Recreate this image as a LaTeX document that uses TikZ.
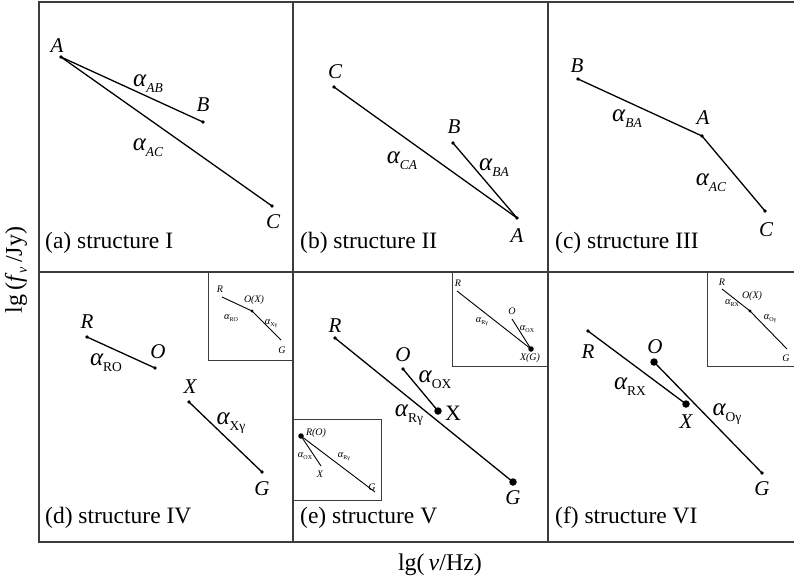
\documentclass[tikz,border=0pt]{standalone}
\usepackage{fontspec}
\setmainfont{Liberation Serif}
\definecolor{framegray}{HTML}{3C3C3C}
\newcommand{\ptfont}{\fontsize{21}{23}\selectfont\itshape}
\newcommand{\capfont}{\fontsize{23.5}{25}\selectfont}
\newcommand{\insfont}{\fontsize{10}{11}\selectfont\itshape}
\newcommand{\axfont}{\fontsize{24}{26}\selectfont}
\newcommand{\mainal}[1]{{\fontsize{25}{26}\selectfont\itshape α}\raisebox{-6pt}{\fontsize{13.5}{14}\selectfont #1}}
\newcommand{\insal}[1]{{\fontsize{10.5}{11}\selectfont\itshape α}\raisebox{-2.3pt}{\fontsize{6}{6}\selectfont #1}}

\tikzset{
  dot/.style={circle,fill=black,inner sep=0pt,minimum size=3.8pt},
  bigdot/.style={circle,fill=black,inner sep=0pt,minimum size=7.5pt},
  smalldot/.style={circle,fill=black,inner sep=0pt,minimum size=3.4pt},
  insbigdot/.style={circle,fill=black,inner sep=0pt,minimum size=5.5pt},
  seg/.style={line width=1.3pt,color=black},
  insseg/.style={line width=0.9pt,color=black},
  ptlab/.style={font=\ptfont,inner sep=0pt},
  uplab/.style={font=\fontsize{22}{24}\selectfont,inner sep=0pt},
  caplab/.style={font=\capfont,anchor=west,inner sep=0pt},
  alab/.style={inner sep=0pt},
  inslab/.style={font=\insfont,inner sep=0pt},
  panelline/.style={line width=1.3pt,color=framegray},
  insetbox/.style={draw=framegray,line width=1pt}
}

\begin{document}
\begin{tikzpicture}[x=1pt,y=-1pt]
\useasboundingbox (0,0) rectangle (794,579);

% panel frame
\draw[panelline] (794,2) -- (39,2) -- (39,542) -- (794,542);
\draw[panelline] (39,272) -- (794,272);
\draw[panelline] (293,2) -- (293,542);
\draw[panelline] (548,2) -- (548,542);

\node[font=\axfont] (xlab) at (440,565) {lg(\,\textit{ν}/Hz)};
\node[font=\axfont,rotate=90] (ylab) at (16,270) {lg\,(\textit{f}\raisebox{-5pt}{\fontsize{14}{14}\selectfont\textit{ν}}\,/Jy)};

% (a) structure I
\node[dot] (aA) at (61,57) {};
\node[dot] (aB) at (203,122) {};
\node[dot] (aC) at (272,206) {};
\draw[seg] (aA.center) -- (aB.center);
\draw[seg] (aA.center) -- (aC.center);
\node[ptlab] (aAl) at (57,46) {A};
\node[ptlab] (aBl) at (203,105) {B};
\node[ptlab] (aCl) at (273,222) {C};
\node[alab] (aab) at (148,84) {\mainal{\itshape AB}};
\node[alab] (aac) at (148,148) {\mainal{\itshape AC}};
\node[caplab] (acap) at (45,243) {(a) structure I};

% (b) structure II
\node[dot] (bC) at (334,87) {};
\node[dot] (bB) at (453,143) {};
\node[dot] (bA) at (517,218) {};
\draw[seg] (bC.center) -- (bA.center);
\draw[seg] (bB.center) -- (bA.center);
\node[ptlab] (bCl) at (335,72) {C};
\node[ptlab] (bBl) at (454,127) {B};
\node[ptlab] (bAl) at (517,236) {A};
\node[alab] (bca) at (402,161) {\mainal{\itshape CA}};
\node[alab] (bba) at (494,168) {\mainal{\itshape BA}};
\node[caplab] (bcap) at (300,243) {(b) structure II};

% (c) structure III
\node[dot] (cB) at (578,79) {};
\node[dot] (cA) at (702,136) {};
\node[dot] (cC) at (765,211) {};
\draw[seg] (cB.center) -- (cA.center) -- (cC.center);
\node[ptlab] (cBl) at (577,66) {B};
\node[ptlab] (cAl) at (703,118) {A};
\node[ptlab] (cCl) at (766,230) {C};
\node[alab] (cba) at (627,119) {\mainal{\itshape BA}};
\node[alab] (cac) at (711,183) {\mainal{\itshape AC}};
\node[caplab] (ccap) at (555,243) {(c) structure III};

% (d) structure IV
\node[dot] (dR) at (87,337) {};
\node[dot] (dO) at (155,368) {};
\node[dot] (dX) at (189,402) {};
\node[dot] (dG) at (262,472) {};
\draw[seg] (dR.center) -- (dO.center);
\draw[seg] (dX.center) -- (dG.center);
\node[ptlab] (dRl) at (87,322) {R};
\node[ptlab] (dOl) at (158,352) {O};
\node[ptlab] (dXl) at (190,387) {X};
\node[ptlab] (dGl) at (262,489) {G};
\node[alab] (dro) at (106,363) {\mainal{RO}};
\node[alab] (dxg) at (231,423) {\mainal{Xγ}};
\node[caplab] (dcap) at (45,518) {(d) structure IV};
% inset
\draw[insetbox] (208,272) rectangle (293,360);
\node[smalldot] (diO) at (252,311) {};
\coordinate (diR) at (222,297);
\coordinate (diG) at (281,340);
\draw[insseg] (diR) -- (diO.center) -- (diG);
\node[inslab] (diRl) at (220,289) {R};
\node[inslab] (diOl) at (254,300) {O(X)};
\node[inslab] (diGl) at (282,350) {G};
\node[alab] (diro) at (231,318) {\insal{RO}};
\node[alab] (dixg) at (271,324) {\insal{Xγ}};

% (e) structure V
\node[dot] (eR) at (335,338) {};
\node[dot] (eO) at (403,369) {};
\node[bigdot] (eX) at (438,411) {};
\node[bigdot] (eG) at (513,482) {};
\draw[seg] (eR.center) -- (eG.center);
\draw[seg] (eO.center) -- (eX.center);
\node[ptlab] (eRl) at (335,326) {R};
\node[ptlab] (eOl) at (403,355) {O};
\node[uplab] (eXl) at (453,413) {X};
\node[ptlab] (eGl) at (513,498) {G};
\node[alab] (eox) at (435,380) {\mainal{OX}};
\node[alab] (erg) at (409,415) {\mainal{Rγ}};
\node[caplab] (ecap) at (300,518) {(e) structure V};
% inset top right
\draw[insetbox] (452,272) rectangle (548,366);
\node[insbigdot] (etX) at (531,349) {};
\coordinate (etR) at (457,291);
\coordinate (etO) at (512,319);
\draw[insseg] (etR) -- (etX.center);
\draw[insseg] (etO) -- (etX.center);
\node[inslab] (etRl) at (458,283) {R};
\node[inslab] (etOl) at (512,311) {O};
\node[inslab] (etXl) at (530,358) {X(G)};
\node[alab] (etrg) at (482,322) {\insal{Rγ}};
\node[alab] (etox) at (527,329) {\insal{OX}};
% inset bottom left
\draw[insetbox] (293,419) rectangle (381,500);
\node[insbigdot] (ebR) at (301,436) {};
\coordinate (ebX) at (321,466);
\coordinate (ebG) at (375,492);
\draw[insseg] (ebR.center) -- (ebX);
\draw[insseg] (ebR.center) -- (ebG);
\node[inslab] (ebRl) at (316,433) {R(O)};
\node[inslab] (ebXl) at (320,474) {X};
\node[inslab] (ebGl) at (372,487) {G};
\node[alab] (ebox) at (305,456) {\insal{OX}};
\node[alab] (ebrg) at (344,457) {\insal{Rγ}};

% (f) structure VI
\node[dot] (fR) at (588,331) {};
\node[bigdot] (fO) at (654,362) {};
\node[bigdot] (fX) at (686,404) {};
\node[dot] (fG) at (762,473) {};
\draw[seg] (fR.center) -- (fX.center);
\draw[seg] (fO.center) -- (fG.center);
\node[ptlab] (fRl) at (588,352) {R};
\node[ptlab] (fOl) at (655,347) {O};
\node[ptlab] (fXl) at (686,422) {X};
\node[ptlab] (fGl) at (762,489) {G};
\node[alab] (frx) at (630,387) {\mainal{RX}};
\node[alab] (fog) at (727,414) {\mainal{Oγ}};
\node[caplab] (fcap) at (555,518) {(f) structure VI};
% inset
\draw[insetbox] (707,272) rectangle (796,366);
\node[smalldot] (fiO) at (750,311) {};
\coordinate (fiR) at (722,289);
\coordinate (fiG) at (787,349);
\draw[insseg] (fiR) -- (fiO.center) -- (fiG);
\node[inslab] (fiRl) at (722,282) {R};
\node[inslab] (fiOl) at (752,296) {O(X)};
\node[inslab] (fiGl) at (786,358) {G};
\node[alab] (firx) at (732,303) {\insal{RX}};
\node[alab] (fiog) at (770,319) {\insal{Oγ}};
\end{tikzpicture}
\end{document}
